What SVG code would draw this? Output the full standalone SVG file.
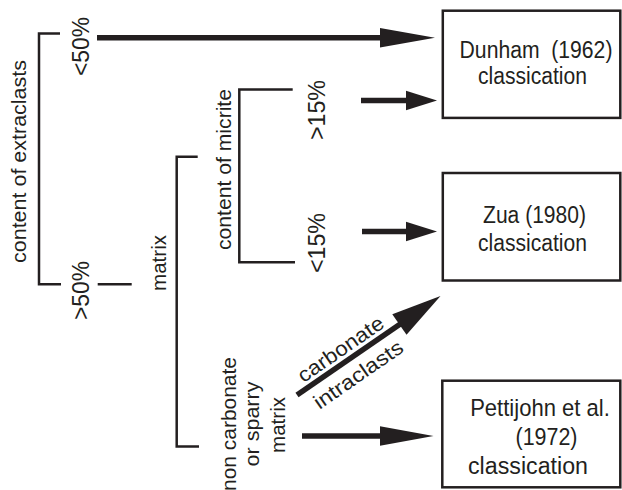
<svg xmlns="http://www.w3.org/2000/svg" width="622" height="490" viewBox="0 0 622 490">
<style>
text{font-family:"Liberation Sans",Arial,sans-serif;fill:#231f20;text-anchor:middle}
.t23{font-size:23px}
.t24{font-size:24.5px}
.t20{font-size:20.5px}
.box{fill:#fff;stroke:#231f20;stroke-width:2.5}
.br{fill:none;stroke:#231f20;stroke-width:2.5}
.shaft{stroke:#231f20;stroke-width:5.5;fill:none}
.head{fill:#231f20}
</style>
<rect width="622" height="490" fill="#fff"/>

<g id="extraclasts">
  <path class="br" d="M60,33.5 H39 V284.3 H61"/>
  <path class="br" d="M97.7,284.3 H131.7"/>
  <text class="t20" transform="translate(26,161.5) rotate(-90)" textLength="203" lengthAdjust="spacingAndGlyphs">content of extraclasts</text>
  <text class="t23" transform="translate(89,46.5) rotate(-90)" textLength="59" lengthAdjust="spacingAndGlyphs">&lt;50%</text>
  <text class="t23" transform="translate(89,290.5) rotate(-90)" textLength="59" lengthAdjust="spacingAndGlyphs">&gt;50%</text>
</g>

<g id="matrix">
  <path class="br" d="M197.7,156.7 H176.7 V446.5 H199"/>
  <text class="t20" transform="translate(165.5,263) rotate(-90)" textLength="56" lengthAdjust="spacingAndGlyphs">matrix</text>
</g>

<g id="micrite">
  <path class="br" d="M292.7,89.5 H239.3 V262.3 H295"/>
  <text class="t20" transform="translate(230.5,169.5) rotate(-90)" textLength="161" lengthAdjust="spacingAndGlyphs">content of micrite</text>
  <text class="t23" transform="translate(325,110) rotate(-90)" textLength="60" lengthAdjust="spacingAndGlyphs">&gt;15%</text>
  <text class="t23" transform="translate(325,243) rotate(-90)" textLength="60" lengthAdjust="spacingAndGlyphs">&lt;15%</text>
</g>

<g id="noncarbonate">
  <text class="t20" transform="translate(236,424) rotate(-90)" textLength="134" lengthAdjust="spacingAndGlyphs">non carbonate</text>
  <text class="t20" transform="translate(259,424) rotate(-90)" textLength="85" lengthAdjust="spacingAndGlyphs">or sparry</text>
  <text class="t20" transform="translate(284.5,425) rotate(-90)" textLength="56" lengthAdjust="spacingAndGlyphs">matrix</text>
</g>

<g id="dunham">
  <rect class="box" x="442.8" y="10.7" width="177.5" height="107.2"/>
  <text class="t24" transform="translate(536,57.5) scale(0.864,1)" xml:space="preserve">Dunham  (1962)</text>
  <text class="t24" transform="translate(532.5,84) scale(0.861,1)">classication</text>
</g>

<g id="zua">
  <rect class="box" x="442.8" y="173" width="177.5" height="107.5"/>
  <text class="t24" transform="translate(534.5,223) scale(0.86,1)">Zua (1980)</text>
  <text class="t24" transform="translate(532.5,251) scale(0.861,1)">classication</text>
</g>

<g id="pettijohn">
  <rect class="box" x="442.3" y="380.7" width="178" height="106.6"/>
  <text class="t24" transform="translate(540,416) scale(0.9,1)">Pettijohn et al.</text>
  <text class="t24" transform="translate(546.5,445) scale(0.876,1)">(1972)</text>
  <text class="t24" transform="translate(528,474) scale(0.948,1)">classication</text>
</g>

<g id="connectors">
  <line class="shaft" x1="97" y1="37.7" x2="382" y2="37.7"/>
  <polygon class="head" points="380,28 435,37.7 380,47.5"/>
  <line class="shaft" x1="361" y1="100.5" x2="408" y2="100.5"/>
  <polygon class="head" points="406,90.7 437,100.5 406,110.3"/>
  <line class="shaft" x1="362" y1="231.5" x2="408" y2="231.5"/>
  <polygon class="head" points="406,221.7 437,231.5 406,241.3"/>
  <line class="shaft" x1="302" y1="436" x2="382" y2="436"/>
  <polygon class="head" points="380,426.3 433.5,436 380,445.7"/>
  <line class="shaft" x1="297" y1="395" x2="401" y2="323.4"/>
  <polygon class="head" points="392.3,314.3 440.5,296 406.5,334.7"/>
  <text class="t20" transform="translate(344.6,354.8) rotate(-34.7)" textLength="100" lengthAdjust="spacingAndGlyphs">carbonate</text>
  <text class="t20" transform="translate(362.2,380.3) rotate(-34.7)" textLength="104" lengthAdjust="spacingAndGlyphs">intraclasts</text>
</g>
</svg>
